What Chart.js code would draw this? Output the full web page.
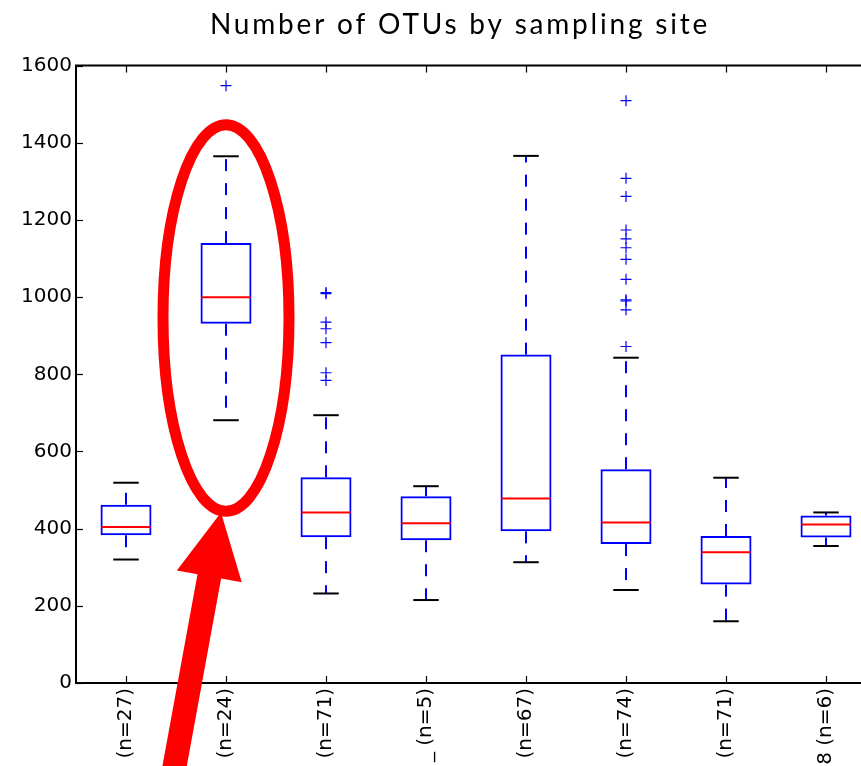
<!DOCTYPE html>
<html><head><meta charset="utf-8">
<script src="https://cdn.jsdelivr.net/npm/chart.js@4/dist/chart.umd.min.js"></script>
<style>
html,body{margin:0;padding:0;overflow:hidden;background:#fff;width:861px;height:766px}
#wrap{width:861px;height:766px;overflow:hidden;position:relative}
canvas{display:block}
</style></head>
<body><div id="wrap"><canvas id="c" width="900" height="766"></canvas></div>
<script>
// ---- data ----
const categories  = ['(n=27)', '(n=24)', '(n=71)', '_ (n=5)', '(n=67)', '(n=74)', '(n=71)', '8 (n=6)'];
const whiskerLow  = [320, 681, 232, 215, 313, 241, 160, 355];
const q1          = [383, 931, 378, 370, 393, 360, 255, 377];
const median      = [404, 1000, 442, 414, 478, 416, 339, 411];
const q3          = [462, 1140, 533, 484, 851, 554, 381, 434];
const whiskerHigh = [519, 1365, 694, 510, 1366, 843, 532, 442];
const outlierSite  = [1, 2, 2, 2, 2, 2, 2, 2, 5, 5, 5, 5, 5, 5, 5, 5, 5, 5, 5, 5];
const outlierValue = [1548, 1012, 1009, 935, 918, 882, 804, 784,
                      1509, 1308, 1261, 1174, 1151, 1128, 1098, 1046, 993, 990, 967, 872];
const yMin = 0, yMax = 1600, yStep = 200;
const titleText = 'Number of OTUs by sampling site';

// annotation (red ellipse + arrow), in scale units
const ellipseSite = 1, ellipseHalfWidth = 0.63, ellipseTop = 1447, ellipseBottom = 445;
const arrowTail = {x: 0.46, y: -252}, arrowTip = {x: 0.95, y: 442};

const BLUE = '#0000ff', RED = '#ff0000', BLACK = '#000000';

// one point-only dataset per outlier rank, indexed by category
const outlierSets = [];
categories.forEach((c, i) => {
  let k = 0;
  outlierSite.forEach((s, j) => {
    if (s !== i) return;
    if (!outlierSets[k]) outlierSets[k] = categories.map(() => null);
    outlierSets[k][i] = outlierValue[j];
    k++;
  });
});

function line(ctx, x1, y1, x2, y2) { ctx.beginPath(); ctx.moveTo(x1, y1); ctx.lineTo(x2, y2); ctx.stroke(); }

const boxParts = {
  id: 'boxParts',
  afterDatasetsDraw(chart) {
    const ctx = chart.ctx, y = chart.scales.y;
    const meta = chart.getDatasetMeta(0);
    ctx.save();
    categories.forEach((c, i) => {
      const bar = meta.data[i];
      const cx = Math.round(bar.x), half = bar.width / 2;
      const pHi = y.getPixelForValue(whiskerHigh[i]), pLo = y.getPixelForValue(whiskerLow[i]);
      const pQ3 = y.getPixelForValue(q3[i]), pQ1 = y.getPixelForValue(q1[i]);
      ctx.lineWidth = 2;
      ctx.strokeStyle = BLUE;
      ctx.setLineDash([12, 12]);
      line(ctx, cx, pQ3, cx, pHi);
      line(ctx, cx, pQ1, cx, pLo);
      ctx.setLineDash([]);
      ctx.strokeStyle = BLACK;
      line(ctx, cx - half / 2, pHi, cx + half / 2, pHi);
      line(ctx, cx - half / 2, pLo, cx + half / 2, pLo);
      ctx.strokeStyle = RED;
      const pM = y.getPixelForValue(median[i]);
      line(ctx, cx - half + 1, pM, cx + half - 1, pM);
    });
    ctx.restore();
  }
};

const frame = {
  id: 'frame',
  afterDraw(chart) {
    const ctx = chart.ctx, a = chart.chartArea, y = chart.scales.y, x = chart.scales.x;
    ctx.save();
    ctx.strokeStyle = BLACK;
    ctx.lineWidth = 2;
    line(ctx, a.left - 1, a.top, a.right, a.top);
    line(ctx, a.right, a.top, a.right, a.bottom);
    ctx.lineWidth = 1.2;
    for (let v = yMin; v <= yMax; v += yStep) {
      const p = Math.round(y.getPixelForValue(v)) + 0.5;
      line(ctx, a.left, p, a.left + 7, p);
      line(ctx, a.right, p, a.right - 7, p);
    }
    categories.forEach((c, i) => {
      const p = Math.round(x.getPixelForValue(i)) + 0.5;
      line(ctx, p, a.bottom, p, a.bottom - 7);
      line(ctx, p, a.top, p, a.top + 7);
    });
    // red annotation
    ctx.strokeStyle = RED;
    ctx.fillStyle = RED;
    ctx.lineWidth = 11;
    const ecx = x.getPixelForValue(ellipseSite);
    const erx = x.getPixelForValue(ellipseSite + ellipseHalfWidth) - ecx;
    const eTop = y.getPixelForValue(ellipseTop), eBot = y.getPixelForValue(ellipseBottom);
    ctx.beginPath();
    ctx.ellipse(ecx, (eTop + eBot) / 2, erx, (eBot - eTop) / 2, 0, 0, Math.PI * 2);
    ctx.stroke();
    const tx = x.getPixelForValue(arrowTail.x), ty = y.getPixelForValue(arrowTail.y);
    const hx = x.getPixelForValue(arrowTip.x), hy = y.getPixelForValue(arrowTip.y);
    const len = Math.hypot(hx - tx, hy - ty);
    const ux = (hx - tx) / len, uy = (hy - ty) / len, nx = -uy, ny = ux;
    const headLen = 65, shaftHalf = 12, headHalf = 33;
    const bx = hx - ux * headLen, by = hy - uy * headLen;
    ctx.beginPath();
    ctx.moveTo(tx + nx * shaftHalf, ty + ny * shaftHalf);
    ctx.lineTo(bx + nx * shaftHalf, by + ny * shaftHalf);
    ctx.lineTo(bx + nx * headHalf, by + ny * headHalf);
    ctx.lineTo(hx, hy);
    ctx.lineTo(bx - nx * headHalf, by - ny * headHalf);
    ctx.lineTo(bx - nx * shaftHalf, by - ny * shaftHalf);
    ctx.lineTo(tx - nx * shaftHalf, ty - ny * shaftHalf);
    ctx.closePath();
    ctx.fill();
    ctx.restore();
  }
};

const datasets = [{
  type: 'bar',
  data: categories.map((c, i) => [q1[i], q3[i]]),
  backgroundColor: 'rgba(0,0,0,0)',
  borderColor: BLUE,
  borderWidth: 2,
  borderSkipped: false,
  grouped: false,
  barPercentage: 0.51,
  categoryPercentage: 1
}];
outlierSets.forEach(arr => datasets.push({
  type: 'line',
  data: arr,
  showLine: false,
  spanGaps: false,
  pointStyle: 'cross',
  pointRadius: 5.5,
  pointBorderColor: BLUE,
  pointBorderWidth: 1.2,
  borderColor: BLUE
}));

const chart = new Chart(document.getElementById('c'), {
  type: 'bar',
  data: {labels: categories, datasets},
  options: {
    responsive: false,
    animation: false,
    devicePixelRatio: 1,
    layout: {padding: {left: 0, right: 24, top: 0, bottom: 0}},
    plugins: {
      legend: {display: false},
      tooltip: {enabled: false},
      title: {
        display: true,
        text: titleText,
        color: BLACK,
        font: {family: 'Lato', size: 28, weight: 'normal', lineHeight: 1.2},
        padding: {top: 8, bottom: 24}
      }
    },
    scales: {
      x: {
        type: 'category',
        offset: true,
        grid: {display: false, drawTicks: false},
        border: {display: true, color: BLACK, width: 2},
        ticks: {
          autoSkip: false, minRotation: 90, maxRotation: 90, padding: 5,
          color: BLACK, font: {family: "'DejaVu Sans'", size: 20}
        },
        afterFit(s) { s.height = 83; }
      },
      y: {
        type: 'linear', min: yMin, max: yMax,
        grid: {display: false, drawTicks: false},
        border: {display: true, color: BLACK, width: 2},
        ticks: {
          stepSize: yStep, padding: 4, color: BLACK,
          font: {family: "'DejaVu Sans'", size: 20},
          callback: v => String(v)
        },
        afterFit(s) { s.width = 76; }
      }
    }
  },
  plugins: [boxParts, frame]
});

// title: spaced letters, shifted to match the reference centre
const tb = chart.titleBlock;
if (tb) {
  const origDraw = tb.draw.bind(tb);
  tb.draw = function () {
    const ctx = chart.ctx;
    ctx.save();
    ctx.letterSpacing = '2.8px';
    ctx.translate(22, 0);
    origDraw();
    ctx.restore();
  };
  chart.draw();
}
</script>
</body></html>
